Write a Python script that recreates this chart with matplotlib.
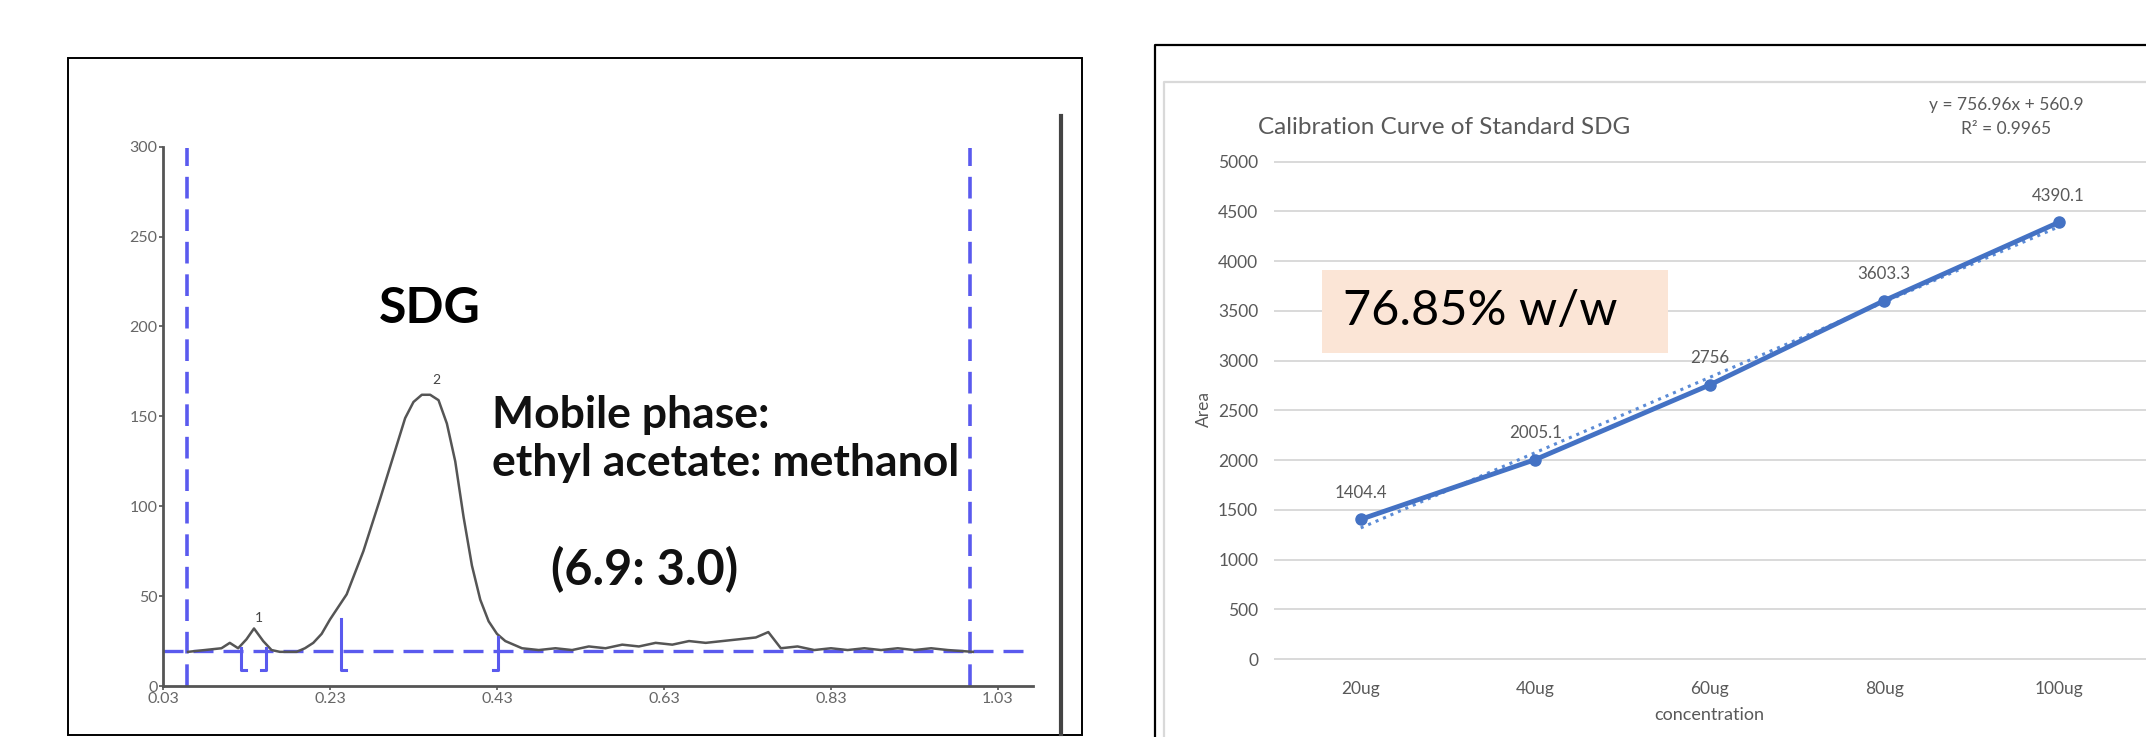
import matplotlib
matplotlib.use("Agg")
import matplotlib.pyplot as plt
from matplotlib.lines import Line2D
from matplotlib.patches import Rectangle

plt.rcParams['font.family'] = ['Lato', 'DejaVu Sans']

# ---- data: HPTLC chromatogram ----
rf = [0.06, 0.08, 0.10, 0.11, 0.12, 0.13, 0.139, 0.15, 0.16, 0.17, 0.19, 0.20,
      0.21, 0.22, 0.23, 0.24, 0.25, 0.27, 0.29, 0.31, 0.32, 0.33, 0.34, 0.35,
      0.36, 0.37, 0.38, 0.39, 0.40, 0.41, 0.42, 0.43, 0.44, 0.46, 0.48, 0.50,
      0.52, 0.54, 0.56, 0.58, 0.60, 0.62, 0.64, 0.66, 0.68, 0.70, 0.72, 0.74,
      0.755, 0.77, 0.79, 0.81, 0.83, 0.85, 0.87, 0.89, 0.91, 0.93, 0.95, 0.97,
      1.00]
signal = [19, 20, 21, 24, 21, 26, 32, 25, 20, 19, 19, 21,
          24, 29, 37, 44, 51, 75, 104, 134, 149, 158, 162, 162,
          159, 146, 125, 94, 67, 48, 36, 29, 25, 21, 20, 21,
          20, 22, 21, 23, 22, 24, 23, 25, 24, 25, 26, 27,
          30, 21, 22, 20, 21, 20, 21, 20, 21, 20, 21, 20,
          19]
rf_ticks = [0.03, 0.23, 0.43, 0.63, 0.83, 1.03]
au_ticks = [0, 50, 100, 150, 200, 250, 300]
baseline = 19.6
window = [0.059, 0.997]
peak_labels = [("1", 0.145, 38), ("2", 0.358, 170)]

# ---- data: calibration curve ----
conc = ['20ug', '40ug', '60ug', '80ug', '100ug']
area = [1404.4, 2005.1, 2756, 3603.3, 4390.1]
slope, intercept, r2 = 756.96, 560.9, 0.9965
content = "76.85% w/w"

W, H = 2146, 737
fig = plt.figure(figsize=(W / 100, H / 100), dpi=100)


def px_axes(x0, y0, x1, y1):
    return fig.add_axes([x0 / W, 1 - y1 / H, (x1 - x0) / W, (y1 - y0) / H])


def fline(xs, ys, **kw):
    fig.add_artist(Line2D([x / W for x in xs], [1 - y / H for y in ys],
                          transform=fig.transFigure, **kw))


def ftext(x, y, s, **kw):
    fig.text(x / W, 1 - y / H, s, **kw)


# ================= left panel =================
fig.add_artist(Rectangle((68 / W, 1 - 734.6 / H), (1081.7 - 68) / W, (734.6 - 58) / H,
                         transform=fig.transFigure, fill=False, ec='black', lw=1.4))
fline([1061, 1061], [116, 734], color='#444444', lw=3)

ax = px_axes(163, 146.7, 1033, 686)
ax.set_xlim(0.03, 1.072)
ax.set_ylim(0, 300)
blue = '#5a5aee'
ax.plot(rf, signal, color='#555555', lw=1.8, zorder=3)
ax.axhline(baseline, color=blue, lw=2.4, ls=(0, (6, 3)), zorder=2)
for w in window:
    ax.plot([w, w], [0, 299], color=blue, lw=2.6, ls=(0, (6, 3)), zorder=2)
# integration brackets
for x0, top, hook in [(0.123, 21, 0.006), (0.153, 21, -0.006),
                      (0.243, 37, 0.006), (0.431, 27, -0.006)]:
    ax.plot([x0, x0, x0 + hook], [top, 9, 9], color=blue, lw=2.2, zorder=4)
for lab, x, y in peak_labels:
    ax.text(x, y, lab, fontsize=10, color='#444444', ha='center', va='center')

ax.spines[['top', 'right']].set_visible(False)
for s in ['left', 'bottom']:
    ax.spines[s].set_color('#555555')
    ax.spines[s].set_linewidth(2)
ax.set_xticks(rf_ticks)
ax.set_xticklabels([f"{t:.2f}" for t in rf_ticks])
ax.set_yticks(au_ticks)
ax.tick_params(axis='both', colors='#555555', labelcolor='#666666', labelsize=11.5,
               length=3, width=1.2)
ax.tick_params(axis='x', pad=1)
ax.tick_params(axis='y', pad=1)

ax.text(0.35, 210, "SDG", fontsize=36, fontweight='bold', ha='center', va='center')
ax.text(0.424, 151, "Mobile phase:", fontsize=32, fontweight='bold', ha='left',
        va='center', color='#111111')
ax.text(0.424, 124, "ethyl acetate: methanol", fontsize=32, fontweight='bold',
        ha='left', va='center', color='#111111')
ax.text(0.607, 65, "(6.9: 3.0)", fontsize=35, fontweight='bold', ha='center',
        va='center', color='#111111')

# ================= right panel =================
fline([1155, 1155, 2146], [737, 44.7, 44.7], color='black', lw=1.6)
fline([1164, 1164, 2146], [737, 82, 82], color='#d9d9d9', lw=1.6)

ppu = (659 - 161.7) / 5000
bx = px_axes(1273.5, 161.7 - 100 * ppu, 2146, 659 + 100 * ppu)
xs = list(range(1, len(conc) + 1))
bx.set_xlim(0.5, 5.5)
bx.set_ylim(-100, 5100)
bx.set_yticks(range(0, 5001, 500))
bx.set_xticks(xs)
bx.set_xticklabels(conc)
bx.grid(axis='y', color='#d9d9d9', lw=1.4)
bx.set_axisbelow(True)
for s in bx.spines.values():
    s.set_visible(False)
bx.tick_params(length=0, labelsize=12.5, labelcolor='#595959')
bx.tick_params(axis='y', pad=11)
bx.tick_params(axis='x', pad=9)

blue2 = '#4472c4'
trend = [slope * x + intercept for x in xs]
bx.plot([xs[0], xs[-1]], [trend[0], trend[-1]], color='#5b8bd6', lw=2.2, ls=':', zorder=3)
bx.plot(xs, area, color=blue2, lw=3.5, marker='o', ms=8, zorder=4)
for x, v in zip(xs, area):
    bx.annotate(f"{v:g}", (x, v), xytext=(0, 19), textcoords='offset points',
                ha='center', va='center', fontsize=12.2, color='#595959')

ftext(1258, 128, "Calibration Curve of Standard SDG", fontsize=17.5, color='#595959',
      ha='left', va='center')
ftext(2006, 105, f"y = {slope}x + {intercept}", fontsize=12.5, color='#595959',
      ha='center', va='center')
ftext(2006, 129, f"R² = {r2}", fontsize=12.5, color='#595959', ha='center', va='center')
ftext(1204, 409, "Area", fontsize=12.5, color='#595959', rotation=90, ha='center', va='center')
ftext(1709, 715, "concentration", fontsize=13, color='#595959', ha='center', va='center')

fig.add_artist(Rectangle((1322 / W, 1 - 353 / H), (1668 - 1322) / W, (353 - 270) / H,
                         transform=fig.transFigure, fc='#fbe5d6', ec='none', zorder=5))
ftext(1343, 311, content, fontsize=35, color='black', ha='left', va='center', zorder=6)

fig.savefig("out.png", dpi=100)
